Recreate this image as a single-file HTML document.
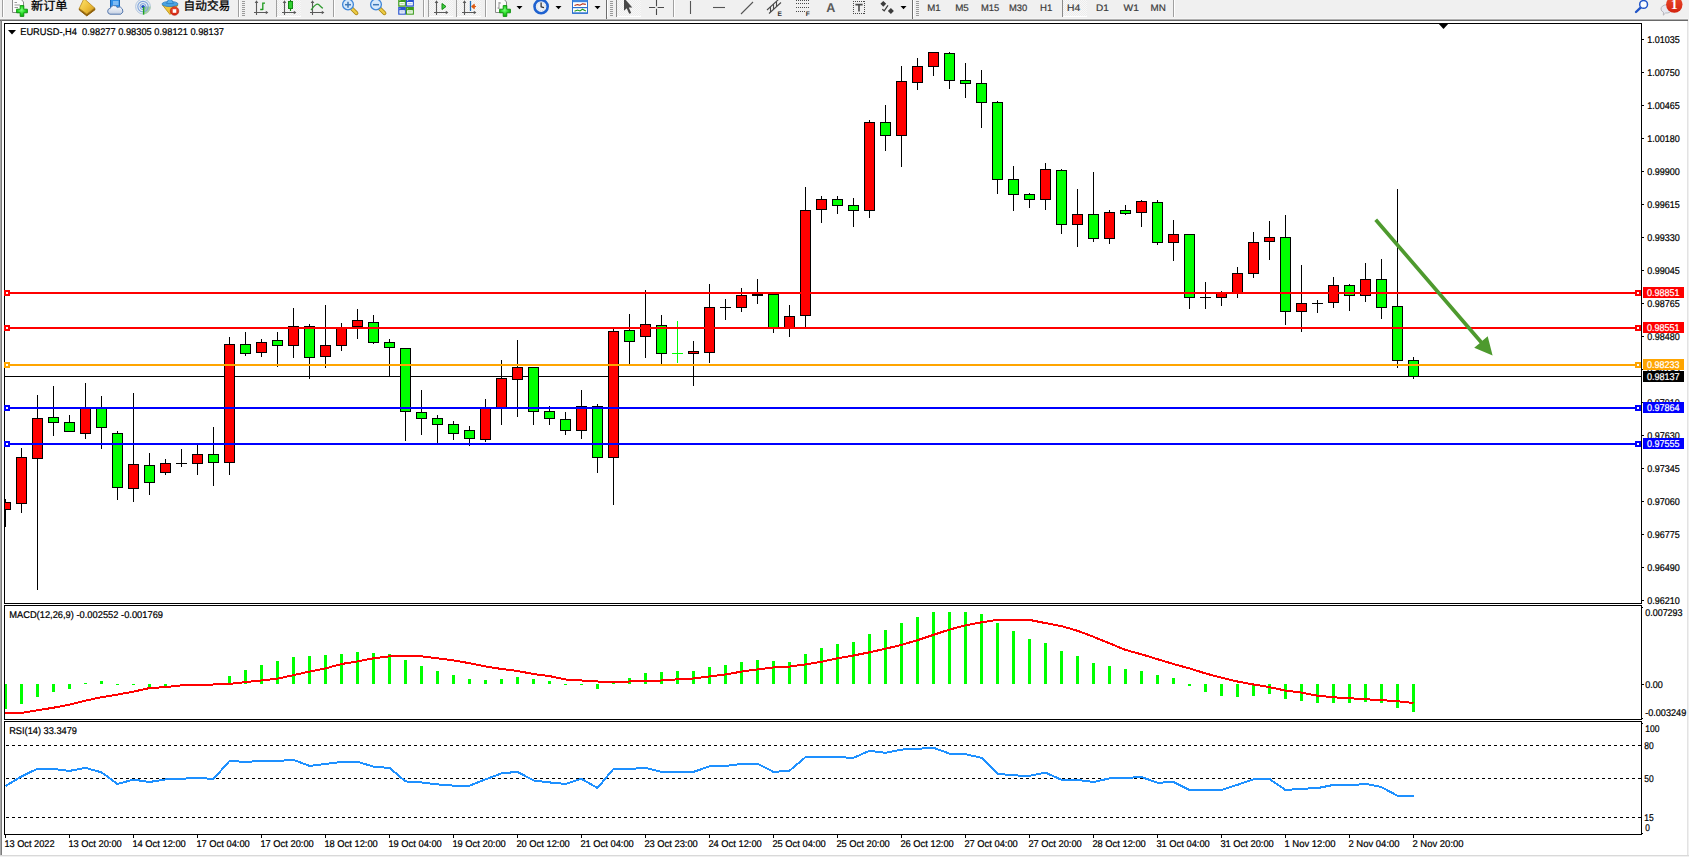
<!DOCTYPE html><html><head><meta charset="utf-8"><title>EURUSD H4</title><style>html,body{margin:0;padding:0;background:#fff;overflow:hidden}</style></head><body><svg width="1689" height="857" viewBox="0 0 1689 857" font-family='"Liberation Sans", "Noto Sans CJK SC", sans-serif' shape-rendering="crispEdges" text-rendering="geometricPrecision" style="display:block">
<rect x="0" y="0" width="1689" height="857" fill="#ffffff"/>
<rect x="0" y="0" width="1689" height="18" fill="#f0f0f0"/>
<rect x="0" y="18" width="1688" height="1" fill="#f5f5f5"/>
<rect x="0" y="19" width="1688" height="1" fill="#b0b0b0"/>
<rect x="0" y="20" width="1688" height="1" fill="#696969"/>
<rect x="1688" y="18" width="1" height="839" fill="#f0f0f0"/>
<rect x="1687" y="21" width="1" height="835" fill="#e3e3e3"/>
<rect x="0" y="21" width="1" height="835" fill="#a8a8a8"/>
<rect x="1" y="20" width="1" height="836" fill="#7c7c7c"/>
<rect x="0" y="855" width="1689" height="1" fill="#d9d9d9"/>
<rect x="0" y="856" width="1689" height="1" fill="#f0f0f0"/>
<rect x="4" y="23" width="1638" height="1" fill="#000"/>
<rect x="4" y="603" width="1638" height="1" fill="#000"/>
<rect x="4" y="23" width="1" height="581" fill="#000"/>
<rect x="1641" y="23" width="1" height="581" fill="#000"/>
<rect x="4" y="605" width="1638" height="1" fill="#000"/>
<rect x="4" y="719" width="1638" height="1" fill="#000"/>
<rect x="4" y="605" width="1" height="115" fill="#000"/>
<rect x="1641" y="605" width="1" height="115" fill="#000"/>
<rect x="4" y="721" width="1638" height="1" fill="#000"/>
<rect x="4" y="834" width="1638" height="1" fill="#000"/>
<rect x="4" y="721" width="1" height="114" fill="#000"/>
<rect x="1641" y="721" width="1" height="114" fill="#000"/>
<rect x="1641" y="23" width="1" height="812" fill="#000"/>
<clipPath id="cm"><rect x="5" y="24" width="1636" height="579"/></clipPath>
<clipPath id="c2"><rect x="5" y="606" width="1636" height="113"/></clipPath>
<clipPath id="c3"><rect x="5" y="722" width="1636" height="112"/></clipPath>
<g clip-path="url(#cm)">
<rect x="5" y="376" width="1636" height="1" fill="#000"/>
<rect x="5" y="499" width="1" height="28" fill="#000"/>
<rect x="0" y="502" width="11" height="8" fill="#000"/>
<rect x="1" y="503" width="9" height="6" fill="#ff0000"/>
<rect x="21" y="448" width="1" height="65" fill="#000"/>
<rect x="16" y="457" width="11" height="47" fill="#000"/>
<rect x="17" y="458" width="9" height="45" fill="#ff0000"/>
<rect x="37" y="395" width="1" height="195" fill="#000"/>
<rect x="32" y="418" width="11" height="41" fill="#000"/>
<rect x="33" y="419" width="9" height="39" fill="#ff0000"/>
<rect x="53" y="386" width="1" height="50" fill="#000"/>
<rect x="48" y="417" width="11" height="6" fill="#000"/>
<rect x="49" y="418" width="9" height="4" fill="#00ff00"/>
<rect x="69" y="415" width="1" height="17" fill="#000"/>
<rect x="64" y="422" width="11" height="10" fill="#000"/>
<rect x="65" y="423" width="9" height="8" fill="#00ff00"/>
<rect x="85" y="383" width="1" height="56" fill="#000"/>
<rect x="80" y="407" width="11" height="27" fill="#000"/>
<rect x="81" y="408" width="9" height="25" fill="#ff0000"/>
<rect x="101" y="396" width="1" height="53" fill="#000"/>
<rect x="96" y="407" width="11" height="21" fill="#000"/>
<rect x="97" y="408" width="9" height="19" fill="#00ff00"/>
<rect x="117" y="431" width="1" height="69" fill="#000"/>
<rect x="112" y="433" width="11" height="55" fill="#000"/>
<rect x="113" y="434" width="9" height="53" fill="#00ff00"/>
<rect x="133" y="393" width="1" height="109" fill="#000"/>
<rect x="128" y="464" width="11" height="25" fill="#000"/>
<rect x="129" y="465" width="9" height="23" fill="#ff0000"/>
<rect x="149" y="453" width="1" height="42" fill="#000"/>
<rect x="144" y="465" width="11" height="18" fill="#000"/>
<rect x="145" y="466" width="9" height="16" fill="#00ff00"/>
<rect x="165" y="459" width="1" height="16" fill="#000"/>
<rect x="160" y="463" width="11" height="10" fill="#000"/>
<rect x="161" y="464" width="9" height="8" fill="#ff0000"/>
<rect x="181" y="449" width="1" height="18" fill="#000"/>
<rect x="176" y="463" width="11" height="1" fill="#000"/>
<rect x="197" y="445" width="1" height="30" fill="#000"/>
<rect x="192" y="454" width="11" height="10" fill="#000"/>
<rect x="193" y="455" width="9" height="8" fill="#ff0000"/>
<rect x="213" y="427" width="1" height="59" fill="#000"/>
<rect x="208" y="454" width="11" height="9" fill="#000"/>
<rect x="209" y="455" width="9" height="7" fill="#00ff00"/>
<rect x="229" y="337" width="1" height="138" fill="#000"/>
<rect x="224" y="344" width="11" height="119" fill="#000"/>
<rect x="225" y="345" width="9" height="117" fill="#ff0000"/>
<rect x="245" y="332" width="1" height="24" fill="#000"/>
<rect x="240" y="344" width="11" height="10" fill="#000"/>
<rect x="241" y="345" width="9" height="8" fill="#00ff00"/>
<rect x="261" y="339" width="1" height="18" fill="#000"/>
<rect x="256" y="342" width="11" height="11" fill="#000"/>
<rect x="257" y="343" width="9" height="9" fill="#ff0000"/>
<rect x="277" y="332" width="1" height="35" fill="#000"/>
<rect x="272" y="340" width="11" height="6" fill="#000"/>
<rect x="273" y="341" width="9" height="4" fill="#00ff00"/>
<rect x="293" y="308" width="1" height="50" fill="#000"/>
<rect x="288" y="326" width="11" height="20" fill="#000"/>
<rect x="289" y="327" width="9" height="18" fill="#ff0000"/>
<rect x="309" y="324" width="1" height="55" fill="#000"/>
<rect x="304" y="326" width="11" height="32" fill="#000"/>
<rect x="305" y="327" width="9" height="30" fill="#00ff00"/>
<rect x="325" y="305" width="1" height="63" fill="#000"/>
<rect x="320" y="345" width="11" height="12" fill="#000"/>
<rect x="321" y="346" width="9" height="10" fill="#ff0000"/>
<rect x="341" y="323" width="1" height="28" fill="#000"/>
<rect x="336" y="327" width="11" height="19" fill="#000"/>
<rect x="337" y="328" width="9" height="17" fill="#ff0000"/>
<rect x="357" y="309" width="1" height="30" fill="#000"/>
<rect x="352" y="320" width="11" height="7" fill="#000"/>
<rect x="353" y="321" width="9" height="5" fill="#ff0000"/>
<rect x="373" y="315" width="1" height="29" fill="#000"/>
<rect x="368" y="322" width="11" height="21" fill="#000"/>
<rect x="369" y="323" width="9" height="19" fill="#00ff00"/>
<rect x="389" y="339" width="1" height="37" fill="#000"/>
<rect x="384" y="342" width="11" height="6" fill="#000"/>
<rect x="385" y="343" width="9" height="4" fill="#00ff00"/>
<rect x="405" y="348" width="1" height="93" fill="#000"/>
<rect x="400" y="348" width="11" height="64" fill="#000"/>
<rect x="401" y="349" width="9" height="62" fill="#00ff00"/>
<rect x="421" y="390" width="1" height="45" fill="#000"/>
<rect x="416" y="412" width="11" height="7" fill="#000"/>
<rect x="417" y="413" width="9" height="5" fill="#00ff00"/>
<rect x="437" y="415" width="1" height="28" fill="#000"/>
<rect x="432" y="418" width="11" height="7" fill="#000"/>
<rect x="433" y="419" width="9" height="5" fill="#00ff00"/>
<rect x="453" y="421" width="1" height="19" fill="#000"/>
<rect x="448" y="424" width="11" height="10" fill="#000"/>
<rect x="449" y="425" width="9" height="8" fill="#00ff00"/>
<rect x="469" y="426" width="1" height="20" fill="#000"/>
<rect x="464" y="430" width="11" height="9" fill="#000"/>
<rect x="465" y="431" width="9" height="7" fill="#00ff00"/>
<rect x="485" y="399" width="1" height="43" fill="#000"/>
<rect x="480" y="407" width="11" height="33" fill="#000"/>
<rect x="481" y="408" width="9" height="31" fill="#ff0000"/>
<rect x="501" y="360" width="1" height="65" fill="#000"/>
<rect x="496" y="378" width="11" height="31" fill="#000"/>
<rect x="497" y="379" width="9" height="29" fill="#ff0000"/>
<rect x="517" y="340" width="1" height="77" fill="#000"/>
<rect x="512" y="367" width="11" height="13" fill="#000"/>
<rect x="513" y="368" width="9" height="11" fill="#ff0000"/>
<rect x="533" y="367" width="1" height="58" fill="#000"/>
<rect x="528" y="367" width="11" height="45" fill="#000"/>
<rect x="529" y="368" width="9" height="43" fill="#00ff00"/>
<rect x="549" y="406" width="1" height="19" fill="#000"/>
<rect x="544" y="411" width="11" height="8" fill="#000"/>
<rect x="545" y="412" width="9" height="6" fill="#00ff00"/>
<rect x="565" y="412" width="1" height="23" fill="#000"/>
<rect x="560" y="419" width="11" height="12" fill="#000"/>
<rect x="561" y="420" width="9" height="10" fill="#00ff00"/>
<rect x="581" y="390" width="1" height="49" fill="#000"/>
<rect x="576" y="406" width="11" height="25" fill="#000"/>
<rect x="577" y="407" width="9" height="23" fill="#ff0000"/>
<rect x="597" y="404" width="1" height="69" fill="#000"/>
<rect x="592" y="406" width="11" height="52" fill="#000"/>
<rect x="593" y="407" width="9" height="50" fill="#00ff00"/>
<rect x="613" y="329" width="1" height="176" fill="#000"/>
<rect x="608" y="331" width="11" height="127" fill="#000"/>
<rect x="609" y="332" width="9" height="125" fill="#ff0000"/>
<rect x="629" y="314" width="1" height="50" fill="#000"/>
<rect x="624" y="330" width="11" height="12" fill="#000"/>
<rect x="625" y="331" width="9" height="10" fill="#00ff00"/>
<rect x="645" y="290" width="1" height="68" fill="#000"/>
<rect x="640" y="324" width="11" height="13" fill="#000"/>
<rect x="641" y="325" width="9" height="11" fill="#ff0000"/>
<rect x="661" y="315" width="1" height="49" fill="#000"/>
<rect x="656" y="325" width="11" height="29" fill="#000"/>
<rect x="657" y="326" width="9" height="27" fill="#00ff00"/>
<rect x="677" y="321" width="1" height="42" fill="#00ff00"/>
<rect x="672" y="353" width="11" height="1" fill="#00ff00"/>
<rect x="693" y="341" width="1" height="45" fill="#000"/>
<rect x="688" y="351" width="11" height="3" fill="#000"/>
<rect x="689" y="352" width="9" height="1" fill="#ff0000"/>
<rect x="709" y="284" width="1" height="79" fill="#000"/>
<rect x="704" y="307" width="11" height="46" fill="#000"/>
<rect x="705" y="308" width="9" height="44" fill="#ff0000"/>
<rect x="725" y="299" width="1" height="21" fill="#000"/>
<rect x="720" y="307" width="11" height="1" fill="#000"/>
<rect x="741" y="288" width="1" height="24" fill="#000"/>
<rect x="736" y="295" width="11" height="13" fill="#000"/>
<rect x="737" y="296" width="9" height="11" fill="#ff0000"/>
<rect x="757" y="279" width="1" height="25" fill="#000"/>
<rect x="752" y="294" width="11" height="2" fill="#000"/>
<rect x="773" y="294" width="1" height="39" fill="#000"/>
<rect x="768" y="294" width="11" height="34" fill="#000"/>
<rect x="769" y="295" width="9" height="32" fill="#00ff00"/>
<rect x="789" y="305" width="1" height="32" fill="#000"/>
<rect x="784" y="316" width="11" height="12" fill="#000"/>
<rect x="785" y="317" width="9" height="10" fill="#ff0000"/>
<rect x="805" y="187" width="1" height="140" fill="#000"/>
<rect x="800" y="210" width="11" height="106" fill="#000"/>
<rect x="801" y="211" width="9" height="104" fill="#ff0000"/>
<rect x="821" y="196" width="1" height="27" fill="#000"/>
<rect x="816" y="199" width="11" height="11" fill="#000"/>
<rect x="817" y="200" width="9" height="9" fill="#ff0000"/>
<rect x="837" y="196" width="1" height="18" fill="#000"/>
<rect x="832" y="199" width="11" height="7" fill="#000"/>
<rect x="833" y="200" width="9" height="5" fill="#00ff00"/>
<rect x="853" y="198" width="1" height="29" fill="#000"/>
<rect x="848" y="205" width="11" height="6" fill="#000"/>
<rect x="849" y="206" width="9" height="4" fill="#00ff00"/>
<rect x="869" y="120" width="1" height="98" fill="#000"/>
<rect x="864" y="122" width="11" height="89" fill="#000"/>
<rect x="865" y="123" width="9" height="87" fill="#ff0000"/>
<rect x="885" y="105" width="1" height="46" fill="#000"/>
<rect x="880" y="122" width="11" height="14" fill="#000"/>
<rect x="881" y="123" width="9" height="12" fill="#00ff00"/>
<rect x="901" y="66" width="1" height="101" fill="#000"/>
<rect x="896" y="81" width="11" height="55" fill="#000"/>
<rect x="897" y="82" width="9" height="53" fill="#ff0000"/>
<rect x="917" y="58" width="1" height="32" fill="#000"/>
<rect x="912" y="66" width="11" height="17" fill="#000"/>
<rect x="913" y="67" width="9" height="15" fill="#ff0000"/>
<rect x="933" y="52" width="1" height="24" fill="#000"/>
<rect x="928" y="52" width="11" height="15" fill="#000"/>
<rect x="929" y="53" width="9" height="13" fill="#ff0000"/>
<rect x="949" y="52" width="1" height="37" fill="#000"/>
<rect x="944" y="53" width="11" height="28" fill="#000"/>
<rect x="945" y="54" width="9" height="26" fill="#00ff00"/>
<rect x="965" y="63" width="1" height="35" fill="#000"/>
<rect x="960" y="80" width="11" height="4" fill="#000"/>
<rect x="961" y="81" width="9" height="2" fill="#00ff00"/>
<rect x="981" y="70" width="1" height="58" fill="#000"/>
<rect x="976" y="83" width="11" height="20" fill="#000"/>
<rect x="977" y="84" width="9" height="18" fill="#00ff00"/>
<rect x="997" y="101" width="1" height="93" fill="#000"/>
<rect x="992" y="102" width="11" height="78" fill="#000"/>
<rect x="993" y="103" width="9" height="76" fill="#00ff00"/>
<rect x="1013" y="166" width="1" height="45" fill="#000"/>
<rect x="1008" y="179" width="11" height="16" fill="#000"/>
<rect x="1009" y="180" width="9" height="14" fill="#00ff00"/>
<rect x="1029" y="193" width="1" height="15" fill="#000"/>
<rect x="1024" y="194" width="11" height="6" fill="#000"/>
<rect x="1025" y="195" width="9" height="4" fill="#00ff00"/>
<rect x="1045" y="163" width="1" height="47" fill="#000"/>
<rect x="1040" y="169" width="11" height="31" fill="#000"/>
<rect x="1041" y="170" width="9" height="29" fill="#ff0000"/>
<rect x="1061" y="169" width="1" height="65" fill="#000"/>
<rect x="1056" y="170" width="11" height="55" fill="#000"/>
<rect x="1057" y="171" width="9" height="53" fill="#00ff00"/>
<rect x="1077" y="189" width="1" height="58" fill="#000"/>
<rect x="1072" y="214" width="11" height="11" fill="#000"/>
<rect x="1073" y="215" width="9" height="9" fill="#ff0000"/>
<rect x="1093" y="172" width="1" height="70" fill="#000"/>
<rect x="1088" y="214" width="11" height="25" fill="#000"/>
<rect x="1089" y="215" width="9" height="23" fill="#00ff00"/>
<rect x="1109" y="210" width="1" height="34" fill="#000"/>
<rect x="1104" y="212" width="11" height="27" fill="#000"/>
<rect x="1105" y="213" width="9" height="25" fill="#ff0000"/>
<rect x="1125" y="205" width="1" height="10" fill="#000"/>
<rect x="1120" y="210" width="11" height="4" fill="#000"/>
<rect x="1121" y="211" width="9" height="2" fill="#00ff00"/>
<rect x="1141" y="200" width="1" height="27" fill="#000"/>
<rect x="1136" y="201" width="11" height="12" fill="#000"/>
<rect x="1137" y="202" width="9" height="10" fill="#ff0000"/>
<rect x="1157" y="200" width="1" height="45" fill="#000"/>
<rect x="1152" y="202" width="11" height="41" fill="#000"/>
<rect x="1153" y="203" width="9" height="39" fill="#00ff00"/>
<rect x="1173" y="220" width="1" height="41" fill="#000"/>
<rect x="1168" y="234" width="11" height="9" fill="#000"/>
<rect x="1169" y="235" width="9" height="7" fill="#ff0000"/>
<rect x="1189" y="234" width="1" height="75" fill="#000"/>
<rect x="1184" y="234" width="11" height="64" fill="#000"/>
<rect x="1185" y="235" width="9" height="62" fill="#00ff00"/>
<rect x="1205" y="282" width="1" height="27" fill="#000"/>
<rect x="1200" y="297" width="11" height="1" fill="#000"/>
<rect x="1221" y="291" width="1" height="15" fill="#000"/>
<rect x="1216" y="293" width="11" height="5" fill="#000"/>
<rect x="1217" y="294" width="9" height="3" fill="#ff0000"/>
<rect x="1237" y="267" width="1" height="31" fill="#000"/>
<rect x="1232" y="273" width="11" height="21" fill="#000"/>
<rect x="1233" y="274" width="9" height="19" fill="#ff0000"/>
<rect x="1253" y="232" width="1" height="46" fill="#000"/>
<rect x="1248" y="242" width="11" height="32" fill="#000"/>
<rect x="1249" y="243" width="9" height="30" fill="#ff0000"/>
<rect x="1269" y="221" width="1" height="39" fill="#000"/>
<rect x="1264" y="237" width="11" height="5" fill="#000"/>
<rect x="1265" y="238" width="9" height="3" fill="#ff0000"/>
<rect x="1285" y="215" width="1" height="110" fill="#000"/>
<rect x="1280" y="237" width="11" height="75" fill="#000"/>
<rect x="1281" y="238" width="9" height="73" fill="#00ff00"/>
<rect x="1301" y="265" width="1" height="67" fill="#000"/>
<rect x="1296" y="303" width="11" height="9" fill="#000"/>
<rect x="1297" y="304" width="9" height="7" fill="#ff0000"/>
<rect x="1317" y="300" width="1" height="13" fill="#000"/>
<rect x="1312" y="303" width="11" height="1" fill="#000"/>
<rect x="1333" y="277" width="1" height="31" fill="#000"/>
<rect x="1328" y="285" width="11" height="18" fill="#000"/>
<rect x="1329" y="286" width="9" height="16" fill="#ff0000"/>
<rect x="1349" y="284" width="1" height="27" fill="#000"/>
<rect x="1344" y="285" width="11" height="11" fill="#000"/>
<rect x="1345" y="286" width="9" height="9" fill="#00ff00"/>
<rect x="1365" y="263" width="1" height="39" fill="#000"/>
<rect x="1360" y="279" width="11" height="17" fill="#000"/>
<rect x="1361" y="280" width="9" height="15" fill="#ff0000"/>
<rect x="1381" y="259" width="1" height="60" fill="#000"/>
<rect x="1376" y="279" width="11" height="29" fill="#000"/>
<rect x="1377" y="280" width="9" height="27" fill="#00ff00"/>
<rect x="1397" y="189" width="1" height="179" fill="#000"/>
<rect x="1392" y="306" width="11" height="55" fill="#000"/>
<rect x="1393" y="307" width="9" height="53" fill="#00ff00"/>
<rect x="1413" y="357" width="1" height="22" fill="#000"/>
<rect x="1408" y="360" width="11" height="17" fill="#000"/>
<rect x="1409" y="361" width="9" height="15" fill="#00ff00"/>
<rect x="5" y="292" width="1636" height="2" fill="#ff0000"/>
<rect x="5" y="327" width="1636" height="2" fill="#ff0000"/>
<rect x="5" y="364" width="1636" height="2" fill="#ffa500"/>
<rect x="5" y="407" width="1636" height="2" fill="#0000ff"/>
<rect x="5" y="443" width="1636" height="2" fill="#0000ff"/>
</g>
<rect x="4" y="290" width="6" height="6" fill="#ff0000"/>
<rect x="6" y="292" width="2" height="2" fill="#fff"/>
<rect x="1635" y="290" width="6" height="6" fill="#ff0000"/>
<rect x="1637" y="292" width="2" height="2" fill="#fff"/>
<rect x="4" y="325" width="6" height="6" fill="#ff0000"/>
<rect x="6" y="327" width="2" height="2" fill="#fff"/>
<rect x="1635" y="325" width="6" height="6" fill="#ff0000"/>
<rect x="1637" y="327" width="2" height="2" fill="#fff"/>
<rect x="4" y="362" width="6" height="6" fill="#ffa500"/>
<rect x="6" y="364" width="2" height="2" fill="#fff"/>
<rect x="1635" y="362" width="6" height="6" fill="#ffa500"/>
<rect x="1637" y="364" width="2" height="2" fill="#fff"/>
<rect x="4" y="405" width="6" height="6" fill="#0000ff"/>
<rect x="6" y="407" width="2" height="2" fill="#fff"/>
<rect x="1635" y="405" width="6" height="6" fill="#0000ff"/>
<rect x="1637" y="407" width="2" height="2" fill="#fff"/>
<rect x="4" y="441" width="6" height="6" fill="#0000ff"/>
<rect x="6" y="443" width="2" height="2" fill="#fff"/>
<rect x="1635" y="441" width="6" height="6" fill="#0000ff"/>
<rect x="1637" y="443" width="2" height="2" fill="#fff"/>
<polygon shape-rendering="geometricPrecision" fill="#4e9a2e" points="1374.3,220.9 1479.6,343.2 1474.2,347.8 1492.6,355.5 1487.7,336.2 1482.4,340.8 1377.1,218.5"/>
<polygon points="1438,23 1449,23 1443.5,29" fill="#000" shape-rendering="geometricPrecision"/>
<polygon points="8,30 16,30 12,34.5" fill="#000" shape-rendering="geometricPrecision"/>
<text x="20.2" y="35" font-size="9.8" fill="#000" stroke="#000" stroke-width="0.22" textLength="203.8" lengthAdjust="spacingAndGlyphs">EURUSD-,H4&#160;&#160;0.98277 0.98305 0.98121 0.98137</text>
<rect x="1642" y="39" width="2" height="1" fill="#000"/>
<text x="1647.2" y="43" font-size="9.8" fill="#000" stroke="#000" stroke-width="0.22" textLength="32.6" lengthAdjust="spacingAndGlyphs">1.01035</text>
<rect x="1642" y="72" width="2" height="1" fill="#000"/>
<text x="1647.2" y="76" font-size="9.8" fill="#000" stroke="#000" stroke-width="0.22" textLength="32.6" lengthAdjust="spacingAndGlyphs">1.00750</text>
<rect x="1642" y="105" width="2" height="1" fill="#000"/>
<text x="1647.2" y="109" font-size="9.8" fill="#000" stroke="#000" stroke-width="0.22" textLength="32.6" lengthAdjust="spacingAndGlyphs">1.00465</text>
<rect x="1642" y="138" width="2" height="1" fill="#000"/>
<text x="1647.2" y="142" font-size="9.8" fill="#000" stroke="#000" stroke-width="0.22" textLength="32.6" lengthAdjust="spacingAndGlyphs">1.00180</text>
<rect x="1642" y="171" width="2" height="1" fill="#000"/>
<text x="1647.2" y="175" font-size="9.8" fill="#000" stroke="#000" stroke-width="0.22" textLength="32.6" lengthAdjust="spacingAndGlyphs">0.99900</text>
<rect x="1642" y="204" width="2" height="1" fill="#000"/>
<text x="1647.2" y="208" font-size="9.8" fill="#000" stroke="#000" stroke-width="0.22" textLength="32.6" lengthAdjust="spacingAndGlyphs">0.99615</text>
<rect x="1642" y="237" width="2" height="1" fill="#000"/>
<text x="1647.2" y="241" font-size="9.8" fill="#000" stroke="#000" stroke-width="0.22" textLength="32.6" lengthAdjust="spacingAndGlyphs">0.99330</text>
<rect x="1642" y="270" width="2" height="1" fill="#000"/>
<text x="1647.2" y="274" font-size="9.8" fill="#000" stroke="#000" stroke-width="0.22" textLength="32.6" lengthAdjust="spacingAndGlyphs">0.99045</text>
<rect x="1642" y="303" width="2" height="1" fill="#000"/>
<text x="1647.2" y="307" font-size="9.8" fill="#000" stroke="#000" stroke-width="0.22" textLength="32.6" lengthAdjust="spacingAndGlyphs">0.98765</text>
<rect x="1642" y="336" width="2" height="1" fill="#000"/>
<text x="1647.2" y="340" font-size="9.8" fill="#000" stroke="#000" stroke-width="0.22" textLength="32.6" lengthAdjust="spacingAndGlyphs">0.98480</text>
<rect x="1642" y="369" width="2" height="1" fill="#000"/>
<text x="1647.2" y="373" font-size="9.8" fill="#000" stroke="#000" stroke-width="0.22" textLength="32.6" lengthAdjust="spacingAndGlyphs">0.98195</text>
<rect x="1642" y="402" width="2" height="1" fill="#000"/>
<text x="1647.2" y="406" font-size="9.8" fill="#000" stroke="#000" stroke-width="0.22" textLength="32.6" lengthAdjust="spacingAndGlyphs">0.97910</text>
<rect x="1642" y="435" width="2" height="1" fill="#000"/>
<text x="1647.2" y="439" font-size="9.8" fill="#000" stroke="#000" stroke-width="0.22" textLength="32.6" lengthAdjust="spacingAndGlyphs">0.97630</text>
<rect x="1642" y="468" width="2" height="1" fill="#000"/>
<text x="1647.2" y="472" font-size="9.8" fill="#000" stroke="#000" stroke-width="0.22" textLength="32.6" lengthAdjust="spacingAndGlyphs">0.97345</text>
<rect x="1642" y="501" width="2" height="1" fill="#000"/>
<text x="1647.2" y="505" font-size="9.8" fill="#000" stroke="#000" stroke-width="0.22" textLength="32.6" lengthAdjust="spacingAndGlyphs">0.97060</text>
<rect x="1642" y="534" width="2" height="1" fill="#000"/>
<text x="1647.2" y="538" font-size="9.8" fill="#000" stroke="#000" stroke-width="0.22" textLength="32.6" lengthAdjust="spacingAndGlyphs">0.96775</text>
<rect x="1642" y="567" width="2" height="1" fill="#000"/>
<text x="1647.2" y="571" font-size="9.8" fill="#000" stroke="#000" stroke-width="0.22" textLength="32.6" lengthAdjust="spacingAndGlyphs">0.96490</text>
<rect x="1642" y="600" width="2" height="1" fill="#000"/>
<text x="1647.2" y="604" font-size="9.8" fill="#000" stroke="#000" stroke-width="0.22" textLength="32.6" lengthAdjust="spacingAndGlyphs">0.96210</text>
<rect x="1643" y="287" width="41" height="11" fill="#ff0000"/>
<text x="1647" y="296" font-size="9.8" fill="#fff" stroke="#fff" stroke-width="0.22" textLength="32.6" lengthAdjust="spacingAndGlyphs">0.98851</text>
<rect x="1643" y="322" width="41" height="11" fill="#ff0000"/>
<text x="1647" y="331" font-size="9.8" fill="#fff" stroke="#fff" stroke-width="0.22" textLength="32.6" lengthAdjust="spacingAndGlyphs">0.98551</text>
<rect x="1643" y="359" width="41" height="11" fill="#ffa500"/>
<text x="1647" y="368" font-size="9.8" fill="#fff" stroke="#fff" stroke-width="0.22" textLength="32.6" lengthAdjust="spacingAndGlyphs">0.98233</text>
<rect x="1643" y="402" width="41" height="11" fill="#0000ff"/>
<text x="1647" y="411" font-size="9.8" fill="#fff" stroke="#fff" stroke-width="0.22" textLength="32.6" lengthAdjust="spacingAndGlyphs">0.97864</text>
<rect x="1643" y="438" width="41" height="11" fill="#0000ff"/>
<text x="1647" y="447" font-size="9.8" fill="#fff" stroke="#fff" stroke-width="0.22" textLength="32.6" lengthAdjust="spacingAndGlyphs">0.97555</text>
<rect x="1643" y="371" width="41" height="11" fill="#000"/>
<text x="1647" y="380" font-size="9.8" fill="#fff" stroke="#fff" stroke-width="0.22" textLength="32.6" lengthAdjust="spacingAndGlyphs">0.98137</text>
<g clip-path="url(#c2)">
<rect x="4" y="684" width="3" height="25" fill="#00ff00"/>
<rect x="20" y="684" width="3" height="20" fill="#00ff00"/>
<rect x="36" y="684" width="3" height="13" fill="#00ff00"/>
<rect x="52" y="684" width="3" height="8" fill="#00ff00"/>
<rect x="68" y="684" width="3" height="5" fill="#00ff00"/>
<rect x="84" y="683" width="3" height="1" fill="#00ff00"/>
<rect x="100" y="681" width="3" height="3" fill="#00ff00"/>
<rect x="116" y="684" width="3" height="1" fill="#00ff00"/>
<rect x="132" y="684" width="3" height="1" fill="#00ff00"/>
<rect x="148" y="684" width="3" height="3" fill="#00ff00"/>
<rect x="164" y="684" width="3" height="3" fill="#00ff00"/>
<rect x="180" y="684" width="3" height="2" fill="#00ff00"/>
<rect x="212" y="684" width="3" height="1" fill="#00ff00"/>
<rect x="228" y="676" width="3" height="8" fill="#00ff00"/>
<rect x="244" y="670" width="3" height="14" fill="#00ff00"/>
<rect x="260" y="665" width="3" height="19" fill="#00ff00"/>
<rect x="276" y="661" width="3" height="23" fill="#00ff00"/>
<rect x="292" y="657" width="3" height="27" fill="#00ff00"/>
<rect x="308" y="656" width="3" height="28" fill="#00ff00"/>
<rect x="324" y="655" width="3" height="29" fill="#00ff00"/>
<rect x="340" y="654" width="3" height="30" fill="#00ff00"/>
<rect x="356" y="652" width="3" height="32" fill="#00ff00"/>
<rect x="372" y="653" width="3" height="31" fill="#00ff00"/>
<rect x="388" y="654" width="3" height="30" fill="#00ff00"/>
<rect x="404" y="660" width="3" height="24" fill="#00ff00"/>
<rect x="420" y="666" width="3" height="18" fill="#00ff00"/>
<rect x="436" y="671" width="3" height="13" fill="#00ff00"/>
<rect x="452" y="675" width="3" height="9" fill="#00ff00"/>
<rect x="468" y="679" width="3" height="5" fill="#00ff00"/>
<rect x="484" y="680" width="3" height="4" fill="#00ff00"/>
<rect x="500" y="679" width="3" height="5" fill="#00ff00"/>
<rect x="516" y="677" width="3" height="7" fill="#00ff00"/>
<rect x="532" y="679" width="3" height="5" fill="#00ff00"/>
<rect x="548" y="681" width="3" height="3" fill="#00ff00"/>
<rect x="564" y="684" width="3" height="1" fill="#00ff00"/>
<rect x="580" y="684" width="3" height="1" fill="#00ff00"/>
<rect x="596" y="684" width="3" height="5" fill="#00ff00"/>
<rect x="612" y="683" width="3" height="1" fill="#00ff00"/>
<rect x="628" y="678" width="3" height="6" fill="#00ff00"/>
<rect x="644" y="673" width="3" height="11" fill="#00ff00"/>
<rect x="660" y="672" width="3" height="12" fill="#00ff00"/>
<rect x="676" y="671" width="3" height="13" fill="#00ff00"/>
<rect x="692" y="671" width="3" height="13" fill="#00ff00"/>
<rect x="708" y="667" width="3" height="17" fill="#00ff00"/>
<rect x="724" y="665" width="3" height="19" fill="#00ff00"/>
<rect x="740" y="662" width="3" height="22" fill="#00ff00"/>
<rect x="756" y="660" width="3" height="24" fill="#00ff00"/>
<rect x="772" y="661" width="3" height="23" fill="#00ff00"/>
<rect x="788" y="662" width="3" height="22" fill="#00ff00"/>
<rect x="804" y="654" width="3" height="30" fill="#00ff00"/>
<rect x="820" y="648" width="3" height="36" fill="#00ff00"/>
<rect x="836" y="644" width="3" height="40" fill="#00ff00"/>
<rect x="852" y="642" width="3" height="42" fill="#00ff00"/>
<rect x="868" y="634" width="3" height="50" fill="#00ff00"/>
<rect x="884" y="630" width="3" height="54" fill="#00ff00"/>
<rect x="900" y="623" width="3" height="61" fill="#00ff00"/>
<rect x="916" y="617" width="3" height="67" fill="#00ff00"/>
<rect x="932" y="612" width="3" height="72" fill="#00ff00"/>
<rect x="948" y="612" width="3" height="72" fill="#00ff00"/>
<rect x="964" y="612" width="3" height="72" fill="#00ff00"/>
<rect x="980" y="614" width="3" height="70" fill="#00ff00"/>
<rect x="996" y="623" width="3" height="61" fill="#00ff00"/>
<rect x="1012" y="631" width="3" height="53" fill="#00ff00"/>
<rect x="1028" y="639" width="3" height="45" fill="#00ff00"/>
<rect x="1044" y="643" width="3" height="41" fill="#00ff00"/>
<rect x="1060" y="651" width="3" height="33" fill="#00ff00"/>
<rect x="1076" y="656" width="3" height="28" fill="#00ff00"/>
<rect x="1092" y="663" width="3" height="21" fill="#00ff00"/>
<rect x="1108" y="666" width="3" height="18" fill="#00ff00"/>
<rect x="1124" y="669" width="3" height="15" fill="#00ff00"/>
<rect x="1140" y="671" width="3" height="13" fill="#00ff00"/>
<rect x="1156" y="675" width="3" height="9" fill="#00ff00"/>
<rect x="1172" y="678" width="3" height="6" fill="#00ff00"/>
<rect x="1188" y="684" width="3" height="2" fill="#00ff00"/>
<rect x="1204" y="684" width="3" height="8" fill="#00ff00"/>
<rect x="1220" y="684" width="3" height="12" fill="#00ff00"/>
<rect x="1236" y="684" width="3" height="13" fill="#00ff00"/>
<rect x="1252" y="684" width="3" height="12" fill="#00ff00"/>
<rect x="1268" y="684" width="3" height="10" fill="#00ff00"/>
<rect x="1284" y="684" width="3" height="15" fill="#00ff00"/>
<rect x="1300" y="684" width="3" height="17" fill="#00ff00"/>
<rect x="1316" y="684" width="3" height="19" fill="#00ff00"/>
<rect x="1332" y="684" width="3" height="19" fill="#00ff00"/>
<rect x="1348" y="684" width="3" height="19" fill="#00ff00"/>
<rect x="1364" y="684" width="3" height="18" fill="#00ff00"/>
<rect x="1380" y="684" width="3" height="19" fill="#00ff00"/>
<rect x="1396" y="684" width="3" height="24" fill="#00ff00"/>
<rect x="1412" y="684" width="3" height="28" fill="#00ff00"/>
<polyline points="5.5,713.1 21.5,712.9 37.5,710.3 53.5,707.7 69.5,704.6 85.5,700.6 101.5,697.2 117.5,694.6 133.5,691.6 149.5,688.1 165.5,687.1 181.5,685.3 197.5,684.9 213.5,684.5 229.5,683.9 245.5,682.1 261.5,680.5 277.5,678.7 293.5,675.1 309.5,671.6 325.5,668.4 341.5,664.0 357.5,661.4 373.5,658.3 389.5,656.3 405.5,655.9 421.5,656.3 437.5,658.3 453.5,660.4 469.5,663.2 485.5,666.4 501.5,669.0 517.5,671.0 533.5,674.0 549.5,676.1 565.5,679.5 581.5,680.5 597.5,681.5 613.5,681.9 629.5,681.5 645.5,680.9 661.5,680.5 677.5,679.3 693.5,678.5 709.5,676.5 725.5,674.5 741.5,671.6 757.5,669.4 773.5,667.4 789.5,666.6 805.5,664.4 821.5,661.8 837.5,658.3 853.5,655.5 869.5,652.3 885.5,648.7 901.5,644.9 917.5,640.2 933.5,634.8 949.5,629.6 965.5,625.3 981.5,622.3 997.5,619.9 1013.5,619.9 1029.5,619.9 1045.5,623.1 1061.5,626.1 1077.5,630.8 1093.5,636.8 1109.5,643.3 1125.5,649.9 1141.5,654.3 1157.5,659.2 1173.5,664.0 1189.5,668.4 1205.5,673.4 1221.5,677.7 1237.5,681.5 1253.5,684.5 1269.5,687.1 1285.5,690.6 1301.5,692.6 1317.5,695.7 1333.5,697.3 1349.5,698.2 1365.5,699.3 1381.5,700.1 1397.5,701.2 1413.5,703.0" fill="none" stroke="#ff0000" stroke-width="2" stroke-linejoin="round"/>
</g>
<text x="9.2" y="618" font-size="9.8" fill="#000" stroke="#000" stroke-width="0.22" textLength="153.8" lengthAdjust="spacingAndGlyphs">MACD(12,26,9) -0.002552 -0.001769</text>
<rect x="1642" y="684" width="2" height="1" fill="#000"/>
<rect x="1642" y="607" width="1" height="1" fill="#000"/>
<rect x="1642" y="718" width="1" height="1" fill="#000"/>
<rect x="1641" y="604" width="1" height="1" fill="#fff"/>
<rect x="1641" y="720" width="1" height="1" fill="#fff"/>
<text x="1645.2" y="616.2" font-size="9.8" fill="#000" stroke="#000" stroke-width="0.22" textLength="37.4" lengthAdjust="spacingAndGlyphs">0.007293</text>
<text x="1645.2" y="688" font-size="9.8" fill="#000" stroke="#000" stroke-width="0.22" textLength="17.6" lengthAdjust="spacingAndGlyphs">0.00</text>
<text x="1645.2" y="715.6" font-size="9.8" fill="#000" stroke="#000" stroke-width="0.22" textLength="41" lengthAdjust="spacingAndGlyphs">-0.003249</text>
<g clip-path="url(#c3)">
<line x1="6" y1="745.5" x2="1641" y2="745.5" stroke="#000" stroke-width="1" stroke-dasharray="3 3"/>
<line x1="6" y1="778.5" x2="1641" y2="778.5" stroke="#000" stroke-width="1" stroke-dasharray="3 3"/>
<line x1="6" y1="817.5" x2="1641" y2="817.5" stroke="#000" stroke-width="1" stroke-dasharray="3 3"/>
<polyline points="5.5,786.0 21.5,776.4 37.5,768.7 53.5,768.9 69.5,770.9 85.5,767.9 101.5,772.3 117.5,784.0 133.5,779.6 149.5,782.0 165.5,779.4 181.5,778.8 197.5,777.8 213.5,779.0 229.5,760.9 245.5,761.9 261.5,760.9 277.5,760.9 293.5,759.9 309.5,765.9 325.5,763.9 341.5,761.9 357.5,761.7 373.5,766.7 389.5,767.9 405.5,781.4 421.5,782.4 437.5,784.4 453.5,785.6 469.5,785.6 485.5,779.4 501.5,773.3 517.5,771.9 533.5,780.4 549.5,782.4 565.5,784.0 581.5,778.8 597.5,788.0 613.5,768.9 629.5,768.9 645.5,767.9 661.5,771.9 677.5,771.9 693.5,771.9 709.5,766.3 725.5,765.9 741.5,763.9 757.5,763.7 773.5,771.9 789.5,770.7 805.5,757.2 821.5,756.8 837.5,757.2 853.5,757.8 869.5,750.8 885.5,752.8 901.5,749.6 917.5,748.8 933.5,747.8 949.5,753.6 965.5,754.2 981.5,757.8 997.5,773.7 1013.5,775.4 1029.5,775.8 1045.5,772.7 1061.5,779.8 1077.5,780.0 1093.5,782.0 1109.5,778.4 1125.5,778.0 1141.5,777.0 1157.5,782.8 1173.5,782.0 1189.5,790.0 1205.5,790.0 1221.5,790.0 1237.5,784.8 1253.5,779.4 1269.5,779.0 1285.5,790.0 1301.5,788.8 1317.5,788.1 1333.5,784.9 1349.5,785.5 1365.5,783.8 1381.5,787.1 1397.5,795.8 1413.5,795.8" fill="none" stroke="#1e90ff" stroke-width="2" stroke-linejoin="round"/>
</g>
<text x="9.2" y="734" font-size="9.8" fill="#000" stroke="#000" stroke-width="0.22" textLength="67.8" lengthAdjust="spacingAndGlyphs">RSI(14) 33.3479</text>
<rect x="1642" y="723" width="1" height="1" fill="#000"/>
<rect x="1642" y="833" width="1" height="1" fill="#000"/>
<text x="1645.2" y="732.2" font-size="9.8" fill="#000" stroke="#000" stroke-width="0.22" textLength="14.2" lengthAdjust="spacingAndGlyphs">100</text>
<text x="1644.2" y="749.0" font-size="9.8" fill="#000" stroke="#000" stroke-width="0.22" textLength="9.4" lengthAdjust="spacingAndGlyphs">80</text>
<text x="1644.2" y="782.0" font-size="9.8" fill="#000" stroke="#000" stroke-width="0.22" textLength="9.4" lengthAdjust="spacingAndGlyphs">50</text>
<text x="1644.2" y="821.0" font-size="9.8" fill="#000" stroke="#000" stroke-width="0.22" textLength="9.4" lengthAdjust="spacingAndGlyphs">15</text>
<text x="1645.2" y="831.0" font-size="9.8" fill="#000" stroke="#000" stroke-width="0.22" textLength="4.6" lengthAdjust="spacingAndGlyphs">0</text>
<rect x="5" y="835" width="1" height="3" fill="#000"/>
<text x="4.4" y="847" font-size="9.8" fill="#000" stroke="#000" stroke-width="0.22" textLength="50.2" lengthAdjust="spacingAndGlyphs">13 Oct 2022</text>
<rect x="69" y="835" width="1" height="3" fill="#000"/>
<text x="68.4" y="847" font-size="9.8" fill="#000" stroke="#000" stroke-width="0.22" textLength="53.4" lengthAdjust="spacingAndGlyphs">13 Oct 20:00</text>
<rect x="133" y="835" width="1" height="3" fill="#000"/>
<text x="132.4" y="847" font-size="9.8" fill="#000" stroke="#000" stroke-width="0.22" textLength="53.4" lengthAdjust="spacingAndGlyphs">14 Oct 12:00</text>
<rect x="197" y="835" width="1" height="3" fill="#000"/>
<text x="196.4" y="847" font-size="9.8" fill="#000" stroke="#000" stroke-width="0.22" textLength="53.4" lengthAdjust="spacingAndGlyphs">17 Oct 04:00</text>
<rect x="261" y="835" width="1" height="3" fill="#000"/>
<text x="260.4" y="847" font-size="9.8" fill="#000" stroke="#000" stroke-width="0.22" textLength="53.4" lengthAdjust="spacingAndGlyphs">17 Oct 20:00</text>
<rect x="325" y="835" width="1" height="3" fill="#000"/>
<text x="324.4" y="847" font-size="9.8" fill="#000" stroke="#000" stroke-width="0.22" textLength="53.4" lengthAdjust="spacingAndGlyphs">18 Oct 12:00</text>
<rect x="389" y="835" width="1" height="3" fill="#000"/>
<text x="388.4" y="847" font-size="9.8" fill="#000" stroke="#000" stroke-width="0.22" textLength="53.4" lengthAdjust="spacingAndGlyphs">19 Oct 04:00</text>
<rect x="453" y="835" width="1" height="3" fill="#000"/>
<text x="452.4" y="847" font-size="9.8" fill="#000" stroke="#000" stroke-width="0.22" textLength="53.4" lengthAdjust="spacingAndGlyphs">19 Oct 20:00</text>
<rect x="517" y="835" width="1" height="3" fill="#000"/>
<text x="516.4" y="847" font-size="9.8" fill="#000" stroke="#000" stroke-width="0.22" textLength="53.4" lengthAdjust="spacingAndGlyphs">20 Oct 12:00</text>
<rect x="581" y="835" width="1" height="3" fill="#000"/>
<text x="580.4" y="847" font-size="9.8" fill="#000" stroke="#000" stroke-width="0.22" textLength="53.4" lengthAdjust="spacingAndGlyphs">21 Oct 04:00</text>
<rect x="645" y="835" width="1" height="3" fill="#000"/>
<text x="644.4" y="847" font-size="9.8" fill="#000" stroke="#000" stroke-width="0.22" textLength="53.4" lengthAdjust="spacingAndGlyphs">23 Oct 23:00</text>
<rect x="709" y="835" width="1" height="3" fill="#000"/>
<text x="708.4" y="847" font-size="9.8" fill="#000" stroke="#000" stroke-width="0.22" textLength="53.4" lengthAdjust="spacingAndGlyphs">24 Oct 12:00</text>
<rect x="773" y="835" width="1" height="3" fill="#000"/>
<text x="772.4" y="847" font-size="9.8" fill="#000" stroke="#000" stroke-width="0.22" textLength="53.4" lengthAdjust="spacingAndGlyphs">25 Oct 04:00</text>
<rect x="837" y="835" width="1" height="3" fill="#000"/>
<text x="836.4" y="847" font-size="9.8" fill="#000" stroke="#000" stroke-width="0.22" textLength="53.4" lengthAdjust="spacingAndGlyphs">25 Oct 20:00</text>
<rect x="901" y="835" width="1" height="3" fill="#000"/>
<text x="900.4" y="847" font-size="9.8" fill="#000" stroke="#000" stroke-width="0.22" textLength="53.4" lengthAdjust="spacingAndGlyphs">26 Oct 12:00</text>
<rect x="965" y="835" width="1" height="3" fill="#000"/>
<text x="964.4" y="847" font-size="9.8" fill="#000" stroke="#000" stroke-width="0.22" textLength="53.4" lengthAdjust="spacingAndGlyphs">27 Oct 04:00</text>
<rect x="1029" y="835" width="1" height="3" fill="#000"/>
<text x="1028.4" y="847" font-size="9.8" fill="#000" stroke="#000" stroke-width="0.22" textLength="53.4" lengthAdjust="spacingAndGlyphs">27 Oct 20:00</text>
<rect x="1093" y="835" width="1" height="3" fill="#000"/>
<text x="1092.4" y="847" font-size="9.8" fill="#000" stroke="#000" stroke-width="0.22" textLength="53.4" lengthAdjust="spacingAndGlyphs">28 Oct 12:00</text>
<rect x="1157" y="835" width="1" height="3" fill="#000"/>
<text x="1156.4" y="847" font-size="9.8" fill="#000" stroke="#000" stroke-width="0.22" textLength="53.4" lengthAdjust="spacingAndGlyphs">31 Oct 04:00</text>
<rect x="1221" y="835" width="1" height="3" fill="#000"/>
<text x="1220.4" y="847" font-size="9.8" fill="#000" stroke="#000" stroke-width="0.22" textLength="53.4" lengthAdjust="spacingAndGlyphs">31 Oct 20:00</text>
<rect x="1285" y="835" width="1" height="3" fill="#000"/>
<text x="1284.4" y="847" font-size="9.8" fill="#000" stroke="#000" stroke-width="0.22" textLength="51.2" lengthAdjust="spacingAndGlyphs">1 Nov 12:00</text>
<rect x="1349" y="835" width="1" height="3" fill="#000"/>
<text x="1348.4" y="847" font-size="9.8" fill="#000" stroke="#000" stroke-width="0.22" textLength="51.2" lengthAdjust="spacingAndGlyphs">2 Nov 04:00</text>
<rect x="1413" y="835" width="1" height="3" fill="#000"/>
<text x="1412.4" y="847" font-size="9.8" fill="#000" stroke="#000" stroke-width="0.22" textLength="51.2" lengthAdjust="spacingAndGlyphs">2 Nov 20:00</text>
<g shape-rendering="geometricPrecision">
<clipPath id="ct"><rect x="0" y="0" width="1689" height="20"/></clipPath>
<g clip-path="url(#ct)">
<linearGradient id="gg" x1="0" y1="0" x2="1" y2="1"><stop offset="0" stop-color="#ffe873"/><stop offset="0.55" stop-color="#eebf3a"/><stop offset="1" stop-color="#c8921a"/></linearGradient><radialGradient id="gp" cx="0.45" cy="0.4" r="0.6"><stop offset="0" stop-color="#7dff7d"/><stop offset="0.6" stop-color="#22d822"/><stop offset="1" stop-color="#0fae0f"/></radialGradient><linearGradient id="gc" x1="0" y1="0" x2="0" y2="1"><stop offset="0" stop-color="#ffffff"/><stop offset="1" stop-color="#c4cfe2"/></linearGradient><linearGradient id="gr" x1="0" y1="0" x2="0" y2="1"><stop offset="0" stop-color="#ea4a2c"/><stop offset="1" stop-color="#d42410"/></linearGradient>
<pattern id="chk" width="2" height="2" patternUnits="userSpaceOnUse"><rect x="0" y="0" width="1" height="1" fill="#ececec"/><rect x="1" y="1" width="1" height="1" fill="#ececec"/></pattern>
<rect x="2" y="0" width="1" height="17" fill="#a0a0a0" shape-rendering="crispEdges"/>
<rect x="3" y="0" width="1" height="17" fill="#ffffff" shape-rendering="crispEdges"/>
<path d="M12.5,-2 H20 L23.5,2 V12.5 H12.5 Z" fill="#fcfcfc" stroke="#8a8a8a" stroke-width="1"/>
<path d="M14.5,2.5 H17 M14.5,5 H20 M14.5,7.5 H18" stroke="#9a9a9a" stroke-width="1"/>
<path d="M20.2,5.6 h3.6 v3.6 h3.6 v3.6 h-3.6 v3.6 h-3.6 v-3.6 h-3.6 v-3.6 h3.6 z" fill="url(#gp)" stroke="#0c8f0c" stroke-width="0.9"/>
<text x="31" y="10.2" font-size="12" fill="#000" stroke="#000" stroke-width="0.3" textLength="36.4" lengthAdjust="spacingAndGlyphs">新订单</text>
<path d="M79.3,10 L86.8,15.9 L95,9.7 L94.6,8 L86.8,14 L79.3,8.4 Z" fill="#8f600a" stroke="#8f600a" stroke-width="1"/>
<path d="M84,-1.5 L94.6,8 L86.8,14 L79.3,8.4 Z" fill="url(#gg)" stroke="#b8871a" stroke-width="0.8"/>
<rect x="110.5" y="-1" width="9" height="10" fill="#2f8fe8" stroke="#1b66b8" stroke-width="1"/>
<path d="M113,2 H118.5 M113,4 H118.5" stroke="#cfe6ff" stroke-width="1"/>
<path d="M110,14.2 a3,3 0 0 1 0.3,-5.9 a3.8,3.8 0 0 1 6.9,-0.9 a3.4,3.4 0 0 1 3.6,6.8 Z" fill="url(#gc)" stroke="#5477ad" stroke-width="1"/>
<circle cx="143" cy="6.6" r="7.4" fill="#e9eef2" stroke="#a9c0dc" stroke-width="0.9"/>
<path d="M143,6.6 L143,14.4 A7.8,7.8 0 0 0 150.8,6.6 Z" fill="#a4d0a0"/>
<circle cx="143" cy="6.6" r="5.2" fill="none" stroke="#7fa3dc" stroke-width="1.1"/>
<circle cx="143" cy="6.6" r="3" fill="none" stroke="#7fa3dc" stroke-width="1"/>
<circle cx="143" cy="6.6" r="1.7" fill="#2452c4"/>
<path d="M143.6,7 V14.6" stroke="#1fa51f" stroke-width="1.4"/>
<path d="M162.5,5 L170,14.5 L178,5 Z" fill="#f0c63a" stroke="#c09a20" stroke-width="1"/>
<ellipse cx="170" cy="4" rx="8" ry="2.6" fill="#4aa3e0" stroke="#2f7fc0" stroke-width="0.8"/>
<path d="M166.5,3.5 Q170,-6 173.5,3.5 Z" fill="#5ab0ea" stroke="#2f7fc0" stroke-width="0.8"/>
<circle cx="174.5" cy="11" r="4.3" fill="url(#gr)" stroke="#b01c10" stroke-width="0.6"/>
<rect x="172.7" y="9.2" width="3.6" height="3.6" fill="#ffffff"/>
<text x="183.6" y="10.2" font-size="12" fill="#000" stroke="#000" stroke-width="0.3" textLength="46.6" lengthAdjust="spacingAndGlyphs">自动交易</text>
<rect x="238" y="0" width="1" height="17" fill="#a0a0a0" shape-rendering="crispEdges"/>
<rect x="239" y="0" width="1" height="17" fill="#ffffff" shape-rendering="crispEdges"/>
<rect x="242" y="1" width="3" height="1" fill="#9a9a9a" shape-rendering="crispEdges"/>
<rect x="242" y="3" width="3" height="1" fill="#9a9a9a" shape-rendering="crispEdges"/>
<rect x="242" y="5" width="3" height="1" fill="#9a9a9a" shape-rendering="crispEdges"/>
<rect x="242" y="7" width="3" height="1" fill="#9a9a9a" shape-rendering="crispEdges"/>
<rect x="242" y="9" width="3" height="1" fill="#9a9a9a" shape-rendering="crispEdges"/>
<rect x="242" y="11" width="3" height="1" fill="#9a9a9a" shape-rendering="crispEdges"/>
<rect x="242" y="13" width="3" height="1" fill="#9a9a9a" shape-rendering="crispEdges"/>
<rect x="242" y="15" width="3" height="1" fill="#9a9a9a" shape-rendering="crispEdges"/>
<path d="M256.5,1.5 V15 M254,12.5 H267.5" stroke="#5a5a5a" stroke-width="1.1" fill="none"/>
<path d="M256.5,0.3 l-1.8,2.6 h3.6z M268.4,12.5 l-2.6,-1.8 v3.6z" fill="#5a5a5a"/>
<path d="M262.8,2.5 V10 M262.8,3.2 H265 M260.2,9.5 H262.8" stroke="#1d9a1d" stroke-width="1.3" fill="none"/>
<rect x="276" y="0" width="1" height="17" fill="#a0a0a0" shape-rendering="crispEdges"/>
<rect x="277" y="0" width="24" height="17" fill="#f8f8f8" shape-rendering="crispEdges"/>
<rect x="277" y="0" width="24" height="17" fill="url(#chk)" shape-rendering="crispEdges"/>
<rect x="277" y="16" width="24" height="1" fill="#ffffff" shape-rendering="crispEdges"/>
<path d="M284.5,1.5 V15 M282,12.5 H295.5" stroke="#5a5a5a" stroke-width="1.1" fill="none"/>
<path d="M284.5,0.3 l-1.8,2.6 h3.6z M296.4,12.5 l-2.6,-1.8 v3.6z" fill="#5a5a5a"/>
<path d="M290.5,0 V11" stroke="#148a14" stroke-width="1.2"/>
<rect x="288.5" y="1.5" width="4" height="7" fill="#2fd02f" stroke="#148a14" stroke-width="1"/>
<path d="M312.5,1.5 V15 M310,12.5 H323.5" stroke="#5a5a5a" stroke-width="1.1" fill="none"/>
<path d="M312.5,0.3 l-1.8,2.6 h3.6z M324.4,12.5 l-2.6,-1.8 v3.6z" fill="#5a5a5a"/>
<path d="M311,10 C313.5,7 315.5,4 317.5,4.2 S321,7.6 323,8.2" stroke="#2f9a2f" stroke-width="1.2" fill="none"/>
<rect x="333" y="0" width="1" height="17" fill="#a0a0a0" shape-rendering="crispEdges"/>
<rect x="334" y="0" width="1" height="17" fill="#ffffff" shape-rendering="crispEdges"/>
<path d="M351.6,8.4 L356.4,13.2" stroke="#a8820f" stroke-width="4" stroke-linecap="round"/>
<path d="M351.6,8.4 L356.4,13.2" stroke="#eccb45" stroke-width="2.4" stroke-linecap="round"/>
<circle cx="348" cy="4.5" r="5.4" fill="#d6e8fa" stroke="#3f86d8" stroke-width="1.3"/>
<path d="M345,4.7 H351" stroke="#3f78b8" stroke-width="1.5"/>
<path d="M348,1.7 V7.7" stroke="#3f78b8" stroke-width="1.5"/>
<path d="M379.6,8.4 L384.4,13.2" stroke="#a8820f" stroke-width="4" stroke-linecap="round"/>
<path d="M379.6,8.4 L384.4,13.2" stroke="#eccb45" stroke-width="2.4" stroke-linecap="round"/>
<circle cx="376" cy="4.5" r="5.4" fill="#d6e8fa" stroke="#3f86d8" stroke-width="1.3"/>
<path d="M373,4.7 H379" stroke="#3f78b8" stroke-width="1.5"/>
<rect x="398.2" y="-1.2" width="7.7" height="7.9" fill="#3c9c1c"/>
<rect x="399.4" y="2.0" width="5.4" height="3.4" fill="#fbfdfb"/>
<rect x="400.3" y="3.2" width="3.5" height="1" fill="#a8dc90"/>
<rect x="399.4" y="0.0" width="1" height="1" fill="#a8dc90"/>
<rect x="405.9" y="-1.2" width="8" height="7.9" fill="#2a55d2"/>
<rect x="407.09999999999997" y="2.0" width="5.7" height="3.4" fill="#fbfdfb"/>
<rect x="408.0" y="3.2" width="3.8" height="1" fill="#a8bcf0"/>
<rect x="407.09999999999997" y="0.0" width="1" height="1" fill="#a8bcf0"/>
<rect x="398.2" y="7" width="7.7" height="7.7" fill="#2a55d2"/>
<rect x="399.4" y="10.2" width="5.4" height="3.4" fill="#fbfdfb"/>
<rect x="400.3" y="11.4" width="3.5" height="1" fill="#a8bcf0"/>
<rect x="399.4" y="8.2" width="1" height="1" fill="#a8bcf0"/>
<rect x="405.9" y="7" width="8" height="7.7" fill="#3c9c1c"/>
<rect x="407.09999999999997" y="10.2" width="5.7" height="3.4" fill="#fbfdfb"/>
<rect x="408.0" y="11.4" width="3.8" height="1" fill="#a8dc90"/>
<rect x="407.09999999999997" y="8.2" width="1" height="1" fill="#a8dc90"/>
<rect x="423" y="0" width="1" height="17" fill="#a0a0a0" shape-rendering="crispEdges"/>
<rect x="424" y="0" width="1" height="17" fill="#ffffff" shape-rendering="crispEdges"/>
<rect x="428" y="0" width="1" height="17" fill="#a0a0a0" shape-rendering="crispEdges"/>
<rect x="429" y="0" width="24" height="17" fill="#f8f8f8" shape-rendering="crispEdges"/>
<rect x="429" y="0" width="24" height="17" fill="url(#chk)" shape-rendering="crispEdges"/>
<rect x="429" y="16" width="24" height="1" fill="#ffffff" shape-rendering="crispEdges"/>
<path d="M436.5,1.5 V15 M434,12.5 H447.5" stroke="#5a5a5a" stroke-width="1.1" fill="none"/>
<path d="M436.5,0.3 l-1.8,2.6 h3.6z M448.4,12.5 l-2.6,-1.8 v3.6z" fill="#5a5a5a"/>
<path d="M442,3.5 L446,6.5 L442,9.5 Z" fill="#3fd03f" stroke="#148a14" stroke-width="1"/>
<rect x="456" y="0" width="1" height="17" fill="#a0a0a0" shape-rendering="crispEdges"/>
<rect x="457" y="0" width="24" height="17" fill="#f8f8f8" shape-rendering="crispEdges"/>
<rect x="457" y="0" width="24" height="17" fill="url(#chk)" shape-rendering="crispEdges"/>
<rect x="457" y="16" width="24" height="1" fill="#ffffff" shape-rendering="crispEdges"/>
<path d="M464.5,1.5 V15 M462,12.5 H475.5" stroke="#5a5a5a" stroke-width="1.1" fill="none"/>
<path d="M464.5,0.3 l-1.8,2.6 h3.6z M476.4,12.5 l-2.6,-1.8 v3.6z" fill="#5a5a5a"/>
<path d="M470.5,1 V11" stroke="#1f6fb8" stroke-width="1.3"/>
<path d="M476,6.5 H472 M474.3,4.3 L471.6,6.5 L474.3,8.7 Z" stroke="#e05a10" stroke-width="1" fill="#e05a10"/>
<rect x="485" y="0" width="1" height="17" fill="#a0a0a0" shape-rendering="crispEdges"/>
<rect x="486" y="0" width="1" height="17" fill="#ffffff" shape-rendering="crispEdges"/>
<path d="M495.5,-2 H503 L506.5,2 V12.5 H495.5 Z" fill="#fcfcfc" stroke="#8a8a8a" stroke-width="1"/>
<path d="M499,2 V9 M499,3 H501 M497.5,8 H499" stroke="#8a8a8a" stroke-width="0.9" fill="none"/>
<path d="M503.2,5.6 h3.6 v3.6 h3.6 v3.6 h-3.6 v3.6 h-3.6 v-3.6 h-3.6 v-3.6 h3.6 z" fill="url(#gp)" stroke="#0c8f0c" stroke-width="0.9"/>
<polygon points="516.5,6 522.5,6 519.5,9.3" fill="#000"/>
<circle cx="541.1" cy="6.6" r="6.6" fill="#eef1f6" stroke="#1f62d0" stroke-width="2.6"/>
<circle cx="541.1" cy="6.6" r="4.2" fill="none" stroke="#b8c4d4" stroke-width="0.9" stroke-dasharray="0.8 1.4"/>
<path d="M541.1,2.6 V6.8 L544,7.6" stroke="#2a2a2a" stroke-width="1.2" fill="none"/>
<polygon points="555.5,6 561.5,6 558.5,9.3" fill="#000"/>
<rect x="572.5" y="-1" width="15" height="14.3" fill="#ffffff" stroke="#2a6fd0" stroke-width="1"/>
<rect x="572.5" y="-1" width="15" height="3.2" fill="#3f86e0"/>
<rect x="572.5" y="12.4" width="15" height="1.2" fill="#2a6fd0"/>
<path d="M572.5,7.6 H587.5" stroke="#2a6fd0" stroke-width="1.2"/>
<path d="M574.5,5.6 L577.5,4.6 L580,5.2 L582.5,3.8 L585.8,4.4" stroke="#b02a10" stroke-width="1.1" fill="none"/>
<path d="M574.5,11.2 L577.5,10 L580,11 L582.5,9.2 L585.8,11" stroke="#1f9a1f" stroke-width="1.1" fill="none"/>
<polygon points="594.5,6 600.5,6 597.5,9.3" fill="#000"/>
<rect x="606" y="0" width="1" height="19" fill="#6d6d6d" shape-rendering="crispEdges"/>
<rect x="607" y="0" width="1" height="17" fill="#ffffff" shape-rendering="crispEdges"/>
<rect x="610" y="1" width="3" height="1" fill="#9a9a9a" shape-rendering="crispEdges"/>
<rect x="610" y="3" width="3" height="1" fill="#9a9a9a" shape-rendering="crispEdges"/>
<rect x="610" y="5" width="3" height="1" fill="#9a9a9a" shape-rendering="crispEdges"/>
<rect x="610" y="7" width="3" height="1" fill="#9a9a9a" shape-rendering="crispEdges"/>
<rect x="610" y="9" width="3" height="1" fill="#9a9a9a" shape-rendering="crispEdges"/>
<rect x="610" y="11" width="3" height="1" fill="#9a9a9a" shape-rendering="crispEdges"/>
<rect x="610" y="13" width="3" height="1" fill="#9a9a9a" shape-rendering="crispEdges"/>
<rect x="610" y="15" width="3" height="1" fill="#9a9a9a" shape-rendering="crispEdges"/>
<rect x="616" y="0" width="1" height="17" fill="#8a8a8a" shape-rendering="crispEdges"/>
<rect x="617" y="0" width="24" height="17" fill="#f8f8f8" shape-rendering="crispEdges"/>
<rect x="617" y="0" width="24" height="17" fill="url(#chk)" shape-rendering="crispEdges"/>
<rect x="617" y="16" width="24" height="1" fill="#ffffff" shape-rendering="crispEdges"/>
<path d="M624,-2 L624,10.7 L626.7,8.2 L629.2,13.8 L631.2,12.9 L628.8,7.4 L632.3,7.4 Z" fill="#484848"/>
<path d="M649,7.5 H655.2 M657.6,7.5 H664 M656.5,0 V6.2 M656.5,8.8 V15" stroke="#4a4a4a" stroke-width="1.1"/>
<rect x="673" y="0" width="1" height="17" fill="#a0a0a0" shape-rendering="crispEdges"/>
<rect x="674" y="0" width="1" height="17" fill="#ffffff" shape-rendering="crispEdges"/>
<path d="M690.5,1 V14" stroke="#555" stroke-width="1.1"/>
<path d="M713,7.5 H725" stroke="#555" stroke-width="1.1"/>
<path d="M741,14 L753,2" stroke="#555" stroke-width="1.1"/>
<path d="M767,10 L779,-1 M769,13.5 L781,2.5 M770.5,6.5 V12 M773.5,4 V9.5 M776.5,1 V7" stroke="#4a4a4a" stroke-width="1.1" fill="none"/>
<text x="777.6" y="16" font-size="6.6" font-weight="bold" fill="#333">E</text>
<path d="M796,0.5 H809" stroke="#4a4a4a" stroke-width="1" stroke-dasharray="1 1"/>
<path d="M796,3.5 H809" stroke="#4a4a4a" stroke-width="1" stroke-dasharray="1 1"/>
<path d="M796,7.5 H809" stroke="#4a4a4a" stroke-width="1" stroke-dasharray="1 1"/>
<path d="M796,11.5 H805" stroke="#4a4a4a" stroke-width="1" stroke-dasharray="1 1"/>
<text x="805.8" y="16" font-size="6.6" font-weight="bold" fill="#333">F</text>
<text x="826.3" y="12" font-size="12.6" font-weight="bold" fill="#5a5a5a">A</text>
<rect x="853" y="1" width="1" height="1" fill="#4a4a4a" shape-rendering="crispEdges"/><rect x="853" y="13" width="1" height="1" fill="#4a4a4a" shape-rendering="crispEdges"/>
<rect x="855" y="1" width="1" height="1" fill="#4a4a4a" shape-rendering="crispEdges"/><rect x="855" y="13" width="1" height="1" fill="#4a4a4a" shape-rendering="crispEdges"/>
<rect x="857" y="1" width="1" height="1" fill="#4a4a4a" shape-rendering="crispEdges"/><rect x="857" y="13" width="1" height="1" fill="#4a4a4a" shape-rendering="crispEdges"/>
<rect x="859" y="1" width="1" height="1" fill="#4a4a4a" shape-rendering="crispEdges"/><rect x="859" y="13" width="1" height="1" fill="#4a4a4a" shape-rendering="crispEdges"/>
<rect x="861" y="1" width="1" height="1" fill="#4a4a4a" shape-rendering="crispEdges"/><rect x="861" y="13" width="1" height="1" fill="#4a4a4a" shape-rendering="crispEdges"/>
<rect x="863" y="1" width="1" height="1" fill="#4a4a4a" shape-rendering="crispEdges"/><rect x="863" y="13" width="1" height="1" fill="#4a4a4a" shape-rendering="crispEdges"/>
<rect x="853" y="1" width="1" height="1" fill="#4a4a4a" shape-rendering="crispEdges"/><rect x="864" y="1" width="1" height="1" fill="#4a4a4a" shape-rendering="crispEdges"/>
<rect x="853" y="3" width="1" height="1" fill="#4a4a4a" shape-rendering="crispEdges"/><rect x="864" y="3" width="1" height="1" fill="#4a4a4a" shape-rendering="crispEdges"/>
<rect x="853" y="5" width="1" height="1" fill="#4a4a4a" shape-rendering="crispEdges"/><rect x="864" y="5" width="1" height="1" fill="#4a4a4a" shape-rendering="crispEdges"/>
<rect x="853" y="7" width="1" height="1" fill="#4a4a4a" shape-rendering="crispEdges"/><rect x="864" y="7" width="1" height="1" fill="#4a4a4a" shape-rendering="crispEdges"/>
<rect x="853" y="9" width="1" height="1" fill="#4a4a4a" shape-rendering="crispEdges"/><rect x="864" y="9" width="1" height="1" fill="#4a4a4a" shape-rendering="crispEdges"/>
<rect x="853" y="11" width="1" height="1" fill="#4a4a4a" shape-rendering="crispEdges"/><rect x="864" y="11" width="1" height="1" fill="#4a4a4a" shape-rendering="crispEdges"/>
<rect x="853" y="13" width="1" height="1" fill="#4a4a4a" shape-rendering="crispEdges"/><rect x="864" y="13" width="1" height="1" fill="#4a4a4a" shape-rendering="crispEdges"/>
<path d="M855.4,4.6 H862.6 M859,4.6 V11.6" stroke="#4a4a4a" stroke-width="1.6" fill="none"/>
<path d="M883.3,0.9 L886.2,3.8 L883.3,6.7 L880.4,3.8 Z M890.9,8 L893.9,11 L890.9,14 L887.9,11 Z" fill="#3c3c3c"/>
<path d="M882.3,9.3 L884.2,10.8 L888,5.4" stroke="#3c3c3c" stroke-width="1.2" fill="none"/>
<polygon points="900.5,6 906.5,6 903.5,9.3" fill="#000"/>
<rect x="912" y="0" width="1" height="19" fill="#6d6d6d" shape-rendering="crispEdges"/>
<rect x="913" y="0" width="1" height="17" fill="#ffffff" shape-rendering="crispEdges"/>
<rect x="916" y="1" width="3" height="1" fill="#9a9a9a" shape-rendering="crispEdges"/>
<rect x="916" y="3" width="3" height="1" fill="#9a9a9a" shape-rendering="crispEdges"/>
<rect x="916" y="5" width="3" height="1" fill="#9a9a9a" shape-rendering="crispEdges"/>
<rect x="916" y="7" width="3" height="1" fill="#9a9a9a" shape-rendering="crispEdges"/>
<rect x="916" y="9" width="3" height="1" fill="#9a9a9a" shape-rendering="crispEdges"/>
<rect x="916" y="11" width="3" height="1" fill="#9a9a9a" shape-rendering="crispEdges"/>
<rect x="916" y="13" width="3" height="1" fill="#9a9a9a" shape-rendering="crispEdges"/>
<rect x="916" y="15" width="3" height="1" fill="#9a9a9a" shape-rendering="crispEdges"/>
<rect x="1062" y="0" width="1" height="17" fill="#8a8a8a" shape-rendering="crispEdges"/>
<rect x="1063" y="0" width="24" height="17" fill="#f8f8f8" shape-rendering="crispEdges"/>
<rect x="1063" y="0" width="24" height="17" fill="url(#chk)" shape-rendering="crispEdges"/>
<rect x="1063" y="16" width="24" height="1" fill="#ffffff" shape-rendering="crispEdges"/>
<text x="927.2" y="10.6" font-size="9.4" fill="#3c3c3c" stroke="#3c3c3c" stroke-width="0.2" textLength="13.4" lengthAdjust="spacingAndGlyphs">M1</text>
<text x="955.2" y="10.6" font-size="9.4" fill="#3c3c3c" stroke="#3c3c3c" stroke-width="0.2" textLength="13.6" lengthAdjust="spacingAndGlyphs">M5</text>
<text x="981.0" y="10.6" font-size="9.4" fill="#3c3c3c" stroke="#3c3c3c" stroke-width="0.2" textLength="18.3" lengthAdjust="spacingAndGlyphs">M15</text>
<text x="1009.0" y="10.6" font-size="9.4" fill="#3c3c3c" stroke="#3c3c3c" stroke-width="0.2" textLength="18.3" lengthAdjust="spacingAndGlyphs">M30</text>
<text x="1040.0" y="10.6" font-size="9.4" fill="#3c3c3c" stroke="#3c3c3c" stroke-width="0.2" textLength="12.3" lengthAdjust="spacingAndGlyphs">H1</text>
<text x="1067.1" y="10.6" font-size="9.4" fill="#3c3c3c" stroke="#3c3c3c" stroke-width="0.2" textLength="13.2" lengthAdjust="spacingAndGlyphs">H4</text>
<text x="1096.0" y="10.6" font-size="9.4" fill="#3c3c3c" stroke="#3c3c3c" stroke-width="0.2" textLength="12.8" lengthAdjust="spacingAndGlyphs">D1</text>
<text x="1123.5" y="10.6" font-size="9.4" fill="#3c3c3c" stroke="#3c3c3c" stroke-width="0.2" textLength="15.3" lengthAdjust="spacingAndGlyphs">W1</text>
<text x="1150.5" y="10.6" font-size="9.4" fill="#3c3c3c" stroke="#3c3c3c" stroke-width="0.2" textLength="15.3" lengthAdjust="spacingAndGlyphs">MN</text>
<rect x="1173" y="0" width="1" height="17" fill="#a0a0a0" shape-rendering="crispEdges"/>
<rect x="1174" y="0" width="1" height="17" fill="#ffffff" shape-rendering="crispEdges"/>
<path d="M1640.6,7.6 L1636,12" stroke="#2255c8" stroke-width="2.4" stroke-linecap="round"/>
<circle cx="1643.6" cy="4.4" r="3.9" fill="#fafcff" stroke="#2255c8" stroke-width="1.5"/>
<path d="M1661,9 a5.5,4.2 0 0 1 11,0 a5.5,4.2 0 0 1 -6.5,4 l-2.2,2.2 l0.2,-2.9 a5,4 0 0 1 -2.5,-3.3 Z" fill="#e6e8f0" stroke="#a8a8b0" stroke-width="0.8"/>
<circle cx="1674.3" cy="4.6" r="8.2" fill="url(#gr)"/>
<text x="1674.3" y="9.4" font-size="14" font-weight="bold" fill="#fff" text-anchor="middle" font-family='"Liberation Serif", serif'>1</text>
</g></g>
</svg></body></html>
